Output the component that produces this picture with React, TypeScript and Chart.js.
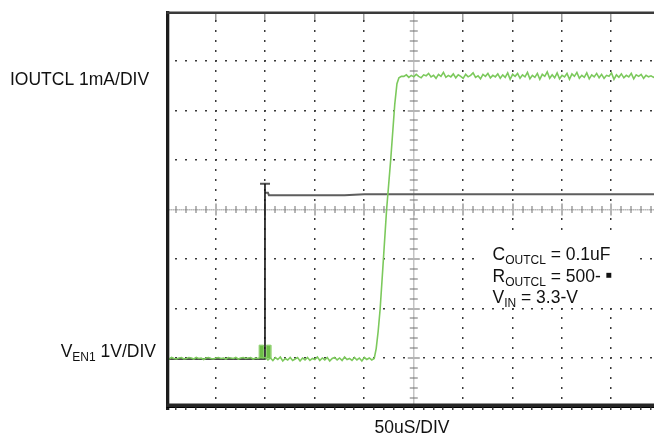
import React, { useEffect, useRef } from 'react';
import { Chart, registerables } from 'chart.js';

Chart.register(...registerables);

const W = 654;
const H = 437;

// Axes: time in µs (50 µs/div), vertical in mA / V (1 per div)
const X_MIN = 0;
const X_MAX = 493;
const Y_MIN = -0.99;
const Y_MAX = 7.01;
const X_DIV = 50;
const Y_DIV = 1;
const MINOR = 5;

const SAMPLE_US = 2.5;

// IOUTCL trace (mA)
const IOUT_LOW_START = 0;
const IOUT_LOW = [
  0.01, -0.01, 0.02, 0.0, -0.01, 0.01, 0.02, -0.01, 0.0, 0.02,
  0.01, -0.01, 0.02, 0.0, 0.01, -0.02, 0.01, 0.02, 0.0, -0.01,
  0.01, 0.02, 0.0, 0.01, -0.01, 0.02, 0.01, 0.0, 0.02, -0.01,
  0.01, 0.02, 0.0, 0.01, 0.02, -0.01, 0.01, 0.0, 0.02, 0.01,
  0.02, -0.03, 0.01, -0.04, 0.02, -0.02, 0.03, -0.05, 0.0, -0.03,
  0.02, -0.04, -0.01, 0.02, -0.05, 0.01, -0.03, 0.02, -0.04, 0.0,
  -0.02, 0.03, -0.04, 0.01, -0.03, 0.02, -0.05, 0.0, 0.02, -0.03,
  0.01, -0.04, 0.03, -0.02, 0.0, -0.04, 0.02, -0.03, 0.01, -0.05,
  0.02, -0.02, 0.01, -0.03, 0.0,
];
const IOUT_RISE_T = [212, 214, 216, 218.6, 222.5, 226.7, 230.8, 233, 235, 237.5];
const IOUT_RISE = [0.2, 0.55, 1.0, 1.79, 3.0, 4.02, 5.14, 5.55, 5.67, 5.7];
const IOUT_HIGH_START = 240;
const IOUT_HIGH = [
  5.7, 5.73, 5.68, 5.72, 5.69, 5.74, 5.7, 5.67, 5.73, 5.71, 5.76, 5.69, 5.72, 5.66, 5.74, 5.7, 5.78, 5.68, 5.72, 5.69,
  5.75, 5.67, 5.73, 5.7, 5.66, 5.74, 5.69, 5.72, 5.77, 5.68, 5.71, 5.65, 5.74, 5.7, 5.76, 5.67, 5.72, 5.69, 5.75, 5.66,
  5.73, 5.68, 5.77, 5.64, 5.74, 5.7, 5.76, 5.66, 5.73, 5.69, 5.78, 5.65, 5.72, 5.68, 5.76, 5.64, 5.74, 5.7, 5.79, 5.66,
  5.73, 5.67, 5.77, 5.65, 5.72, 5.69, 5.76, 5.64, 5.75, 5.7, 5.78, 5.66, 5.72, 5.68, 5.77, 5.65, 5.73, 5.69, 5.76, 5.67,
  5.74, 5.66, 5.72, 5.7, 5.77, 5.64, 5.73, 5.68, 5.75, 5.67, 5.72, 5.69, 5.76, 5.65, 5.73, 5.7, 5.74, 5.66, 5.72, 5.69,
  5.71, 5.68, 5.72,
];
// green glitch at the enable edge (two short bars)
const PULSE_A_T = [93.6, 93.6, 98.0, 98.0];
const PULSE_B_T = [101.0, 101.0, 105.4, 105.4];
const PULSE = [0, 0.27, 0.27, 0];

// VEN1 trace (V)
const VEN_EDGE_T = [0, 99.5, 99.5];
const VEN_EDGE = [-0.01, -0.01, 3.53];
const VEN_CAP_T = [94.5, 104.6];
const VEN_CAP = [3.53, 3.53];
const VEN_LEVEL_T = [99.5, 102.5, 103.5, 180, 200, 300, 493];
const VEN_LEVEL = [3.35, 3.35, 3.3, 3.3, 3.32, 3.32, 3.32];

const IOUT_LABEL = 'IOUTCL 1mA/DIV';
const VEN_LABEL = [{ t: 'V' }, { t: 'EN1', sub: true }, { t: ' 1V/DIV' }];
const TIME_LABEL = '50uS/DIV';
const NOTES = [
  [{ t: 'C' }, { t: 'OUTCL', sub: true }, { t: ' = 0.1uF' }],
  [{ t: 'R' }, { t: 'OUTCL', sub: true }, { t: ' = 500- ' }, { t: '\u25A0', mark: true }],
  [{ t: 'V' }, { t: 'IN', sub: true }, { t: ' = 3.3-V' }],
];

const FONT = '"Liberation Sans", Arial, Helvetica, sans-serif';
const GREEN = '#7cc95c';

const seq = (start: number, vals: number[]) =>
  vals.map((v, i) => ({ x: start + i * SAMPLE_US, y: v }));
const pairs = (ts: number[], vs: number[]) => ts.map((t, i) => ({ x: t, y: vs[i] }));

type Part = { t: string; sub?: boolean; mark?: boolean };

function drawRich(ctx: CanvasRenderingContext2D, parts: Part[], x: number, base: number, align: 'left' | 'right') {
  const fontOf = (p: Part) => (p.mark ? `6.5px "DejaVu Sans", sans-serif` : p.sub ? `12px ${FONT}` : `17.5px ${FONT}`);
  let total = 0;
  const widths = parts.map((p) => {
    ctx.font = fontOf(p);
    const w = ctx.measureText(p.t).width;
    total += w;
    return w;
  });
  let cx = align === 'right' ? x - total : x;
  ctx.textAlign = 'left';
  ctx.textBaseline = 'alphabetic';
  parts.forEach((p, i) => {
    ctx.font = fontOf(p);
    ctx.fillText(p.t, cx, p.sub ? base + 4 : p.mark ? base - 5 : base);
    cx += widths[i];
  });
}

const scopeGrid = {
  id: 'scopeGrid',
  beforeDatasetsDraw(chart: any) {
    const { ctx, chartArea: a, scales } = chart;
    const xs = scales.x;
    const ys = scales.y;
    ctx.save();
    const xc = xs.getPixelForValue(X_MIN + 5 * X_DIV);
    const yc = ys.getPixelForValue(Y_MIN + 4 * Y_DIV);
    const xStep = X_DIV / MINOR;
    const yStep = Y_DIV / MINOR;
    // dotted major grid
    ctx.fillStyle = '#3a3a3a';
    for (let k = 1; k < 10; k++) {
      if (k === 5) continue;
      const px = Math.round(xs.getPixelForValue(X_MIN + k * X_DIV));
      for (let j = 1; j < 8 * MINOR; j++) {
        const py = Math.round(ys.getPixelForValue(Y_MIN + j * yStep));
        ctx.fillRect(px - 1, py - 1, 1.5, 2);
      }
      for (let py = a.top + 2; py < a.top + 10; py += 2) ctx.fillRect(px - 1, py, 1.5, 1);
    }
    for (let k = 1; k < 8; k++) {
      if (k === 4) continue;
      const py = Math.round(ys.getPixelForValue(Y_MIN + k * Y_DIV));
      for (let i = 1; i * xStep <= X_MAX; i++) {
        const px = Math.round(xs.getPixelForValue(X_MIN + i * xStep));
        ctx.fillRect(px - 1, py - 1, 2, 1.5);
      }
    }
    // centre axes
    ctx.fillStyle = '#8a8a8a';
    for (let px = a.left; px < a.right; px += 2) ctx.fillRect(px, Math.round(yc) - 1, 1, 1.5);
    for (let py = a.top; py < a.bottom; py += 2) ctx.fillRect(Math.round(xc) - 1, py, 1.5, 1);
    for (let i = 1; i * xStep <= X_MAX; i++) {
      const px = Math.round(xs.getPixelForValue(X_MIN + i * xStep));
      if (i % MINOR === 0) {
        ctx.fillStyle = '#b4b4b4';
        ctx.fillRect(px - 1, yc - 6, 2, 12);
      } else {
        ctx.fillStyle = '#707070';
        ctx.fillRect(px - 0.5, yc - 3.5, 1, 7);
      }
    }
    for (let j = 1; j < 8 * MINOR; j++) {
      const py = Math.round(ys.getPixelForValue(Y_MIN + j * yStep));
      if (j % MINOR === 0) {
        ctx.fillStyle = '#b4b4b4';
        ctx.fillRect(xc - 6, py - 1, 12, 2);
      } else {
        ctx.fillStyle = '#707070';
        ctx.fillRect(xc - 4, py - 0.5, 8, 1);
      }
    }
    // white panel behind the annotation block
    ctx.fillStyle = '#fff';
    ctx.fillRect(474, 238, 164, 68);
    ctx.restore();
  },
  afterDatasetsDraw(chart: any) {
    const { ctx, chartArea: a, scales } = chart;
    const xs = scales.x;
    ctx.save();
    ctx.fillStyle = '#1c1c1c';
    ctx.fillRect(a.left - 0.6, a.top - 0.5, 3.3, a.bottom - a.top + 3);
    ctx.fillStyle = '#3a3a3a';
    ctx.fillRect(a.left, a.top, a.right - a.left, 2.5);
    ctx.fillStyle = '#262626';
    ctx.fillRect(a.left, a.bottom - 4, a.right - a.left, 4);
    ctx.fillStyle = '#000';
    ctx.fillRect(a.left, a.bottom - 0.5, a.right - a.left, 1);
    ctx.fillStyle = '#444';
    for (let i = 1; i * (X_DIV / MINOR) <= X_MAX; i++) {
      const px = Math.round(xs.getPixelForValue(X_MIN + i * (X_DIV / MINOR)));
      ctx.fillRect(px - 1, a.bottom, 1.5, 2.5);
    }
    ctx.restore();
  },
  afterDraw(chart: any) {
    const { ctx } = chart;
    ctx.save();
    ctx.fillStyle = '#111';
    ctx.font = `17.5px ${FONT}`;
    ctx.textAlign = 'left';
    ctx.textBaseline = 'alphabetic';
    ctx.fillText(IOUT_LABEL, 10, 85);
    drawRich(ctx, VEN_LABEL, 156, 356.5, 'right');
    ctx.font = `17.5px ${FONT}`;
    ctx.textAlign = 'center';
    ctx.fillText(TIME_LABEL, 412, 433);
    const bases = [259.5, 281.5, 303];
    NOTES.forEach((n, i) => drawRich(ctx, n, 492.5, bases[i], 'left'));
    ctx.restore();
  },
};

export default function App() {
  const ref = useRef<HTMLCanvasElement | null>(null);
  useEffect(() => {
    if (!ref.current) return;
    const base = { pointRadius: 0, tension: 0 };
    const chart = new Chart(ref.current, {
      type: 'line',
      data: {
        datasets: [
          {
            ...base,
            label: 'IOUTCL',
            data: [
              ...seq(IOUT_LOW_START, IOUT_LOW),
              ...pairs(IOUT_RISE_T, IOUT_RISE),
              ...seq(IOUT_HIGH_START, IOUT_HIGH),
            ],
            borderColor: GREEN,
            borderWidth: 1.6,
            order: 1,
          },
          {
            ...base,
            label: 'glitch A',
            data: pairs(PULSE_A_T, PULSE),
            borderColor: '#8fd16f',
            backgroundColor: '#6dbe48',
            borderWidth: 1,
            fill: 'origin',
            order: 3,
          },
          {
            ...base,
            label: 'glitch B',
            data: pairs(PULSE_B_T, PULSE),
            borderColor: '#8fd16f',
            backgroundColor: '#6dbe48',
            borderWidth: 1,
            fill: 'origin',
            order: 3,
          },
          {
            ...base,
            label: 'VEN1 edge',
            data: pairs(VEN_EDGE_T, VEN_EDGE),
            borderColor: '#111',
            borderWidth: 1.6,
            order: 2,
          },
          {
            ...base,
            label: 'VEN1 cap',
            data: pairs(VEN_CAP_T, VEN_CAP),
            borderColor: '#555',
            borderWidth: 2,
            order: 2,
          },
          {
            ...base,
            label: 'VEN1 level',
            data: pairs(VEN_LEVEL_T, VEN_LEVEL),
            borderColor: '#5e5e5e',
            borderWidth: 2,
            order: 2,
          },
        ],
      },
      options: {
        animation: false,
        responsive: false,
        layout: { padding: { left: 166.6, right: 0, top: 11.5, bottom: 29.5 } },
        plugins: { legend: { display: false }, tooltip: { enabled: false } },
        scales: {
          x: { type: 'linear', min: X_MIN, max: X_MAX, display: false },
          y: { type: 'linear', min: Y_MIN, max: Y_MAX, display: false },
        },
      },
      plugins: [scopeGrid],
    });
    return () => chart.destroy();
  }, []);
  return (
    <div style={{ position: 'fixed', left: 0, top: 0, width: W, height: H, background: '#fff' }}>
      <canvas ref={ref} width={W} height={H} style={{ display: 'block', width: W, height: H }} />
    </div>
  );
}
